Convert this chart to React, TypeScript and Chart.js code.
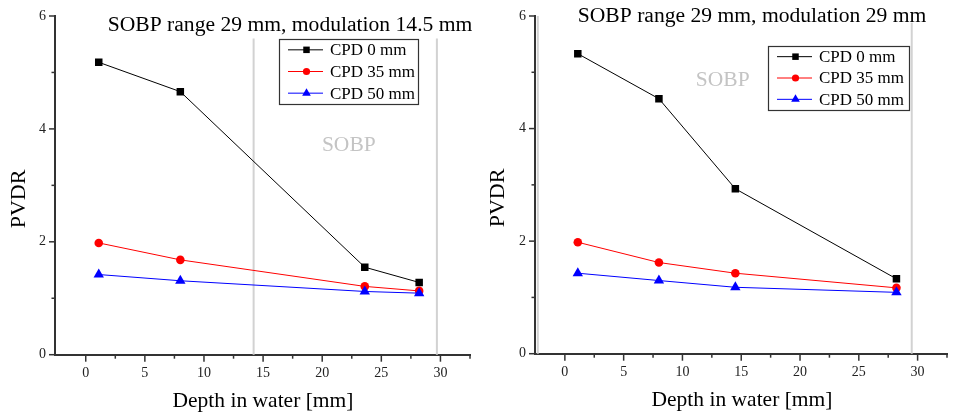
import React, { useEffect, useRef } from "react";
import { Chart, registerables } from "chart.js";

Chart.register(...registerables);

// ---------- data ----------
const depthLeft = [1.1, 8.0, 23.6, 28.2];
const cpd0Left = [5.18, 4.66, 1.55, 1.28];
const cpd35Left = [1.98, 1.68, 1.21, 1.13];
const cpd50Left = [1.42, 1.31, 1.12, 1.09];

const depthRight = [1.1, 8.0, 14.5, 28.2];
const cpd0Right = [5.33, 4.53, 2.93, 1.33];
const cpd35Right = [1.98, 1.62, 1.43, 1.17];
const cpd50Right = [1.43, 1.3, 1.18, 1.09];

const seriesLabels = ["CPD 0 mm", "CPD 35 mm", "CPD 50 mm"];
const titleLeft = "SOBP range 29 mm, modulation 14.5 mm";
const titleRight = "SOBP range 29 mm, modulation 29 mm";
const xTitle = "Depth in water [mm]";
const yTitle = "PVDR";
const sobpText = "SOBP";

const sobpLinesLeft = [14.2, 29.7];
const sobpTopsLeft = [5.6, 5.6];
const sobpLinesRight = [-2.3, 29.5];
const sobpTopsRight = [6, 5.88];

const xMajorTicks = [0, 5, 10, 15, 20, 25, 30];
const xMinorTicks = [2.5, 7.5, 12.5, 17.5, 22.5, 27.5, 32.5];
const yMajorTicks = [0, 2, 4, 6];
const yMinorTicks = [1, 3, 5];

// ---------- styles ----------
const FONT = "'Liberation Serif', 'Times New Roman', serif";
const AXIS = "#333333";
const COLORS = ["#000000", "#ff0000", "#0000ff"];
const STYLES = ["rect", "circle", "triangle"];
const RADII = [5.3, 4.3, 6];
const LEGEND_RADII = [4.6, 3.6, 5];

type Panel = {
  width: number;
  left: number;
  plotLeft: number;
  plotRight: number;
  plotTop: number;
  plotBottom: number;
  xMin: number;
  xMax: number;
  depth: number[];
  series: number[][];
  title: string;
  titleX: number;
  titleBaseline: number;
  sobpLines: number[];
  sobpTops: number[];
  sobpX: number;
  sobpBaseline: number;
  legendBox: [number, number, number, number];
  xTitleX: number;
  xTitleBaseline: number;
  yTitleBaseline: number;
  yTitleY: number;
};

const panels: Panel[] = [
  {
    width: 476,
    left: 0,
    plotLeft: 55,
    plotRight: 471.7,
    plotTop: 16,
    plotBottom: 354.7,
    xMin: -2.6,
    xMax: 32.5,
    depth: depthLeft,
    series: [cpd0Left, cpd35Left, cpd50Left],
    title: titleLeft,
    titleX: 290,
    titleBaseline: 30.7,
    sobpLines: sobpLinesLeft,
    sobpTops: sobpTopsLeft,
    sobpX: 348.8,
    sobpBaseline: 150.7,
    legendBox: [279, 39, 418, 104],
    xTitleX: 263,
    xTitleBaseline: 406.5,
    yTitleBaseline: 25,
    yTitleY: 199,
  },
  {
    width: 477,
    left: 476,
    plotLeft: 59,
    plotRight: 474,
    plotTop: 16,
    plotBottom: 353.7,
    xMin: -2.54,
    xMax: 32.5,
    depth: depthRight,
    series: [cpd0Right, cpd35Right, cpd50Right],
    title: titleRight,
    titleX: 276,
    titleBaseline: 21.7,
    sobpLines: sobpLinesRight,
    sobpTops: sobpTopsRight,
    sobpX: 246.7,
    sobpBaseline: 85.7,
    legendBox: [292, 46, 433, 110],
    xTitleX: 266,
    xTitleBaseline: 405.7,
    yTitleBaseline: 27.5,
    yTitleY: 198,
  },
];

function drawMarker(ctx: CanvasRenderingContext2D, style: string, x: number, y: number, r: number, color: string) {
  ctx.save();
  ctx.fillStyle = color;
  ctx.beginPath();
  if (style === "rect") {
    const s = r / Math.SQRT2;
    ctx.rect(x - s, y - s, 2 * s, 2 * s);
  } else if (style === "circle") {
    ctx.arc(x, y, r, 0, Math.PI * 2);
  } else {
    const h = r * 1.5;
    const w = (r * Math.sqrt(3)) / 2;
    ctx.moveTo(x, y - r);
    ctx.lineTo(x + w, y + h - r);
    ctx.lineTo(x - w, y + h - r);
    ctx.closePath();
  }
  ctx.fill();
  ctx.restore();
}

function makeChart(canvas: HTMLCanvasElement, p: Panel) {
  const decor = {
    id: "decor",
    beforeDatasetsDraw(chart: any) {
      const ctx = chart.ctx as CanvasRenderingContext2D;
      const xs = chart.scales.x;
      const ys = chart.scales.y;
      ctx.save();
      ctx.strokeStyle = "#d2d2d2";
      ctx.lineWidth = 2;
      p.sobpLines.forEach((v, i) => {
        const px = xs.getPixelForValue(v);
        ctx.beginPath();
        ctx.moveTo(px, ys.getPixelForValue(p.sobpTops[i]));
        ctx.lineTo(px, ys.getPixelForValue(0));
        ctx.stroke();
      });
      ctx.fillStyle = "#c4c4c4";
      ctx.font = `21.5px ${FONT}`;
      ctx.textAlign = "center";
      ctx.textBaseline = "alphabetic";
      ctx.fillText(sobpText, p.sobpX, p.sobpBaseline);
      ctx.restore();
    },
    afterDraw(chart: any) {
      const ctx = chart.ctx as CanvasRenderingContext2D;
      const xs = chart.scales.x;
      const ys = chart.scales.y;
      const area = chart.chartArea;
      ctx.save();
      // tick marks
      ctx.strokeStyle = AXIS;
      ctx.lineWidth = 1.5;
      const xt = (v: number, len: number) => {
        const px = xs.getPixelForValue(v);
        ctx.beginPath();
        ctx.moveTo(px, area.bottom);
        ctx.lineTo(px, area.bottom + len);
        ctx.stroke();
      };
      const yt = (v: number, len: number) => {
        const py = ys.getPixelForValue(v);
        ctx.beginPath();
        ctx.moveTo(area.left, py);
        ctx.lineTo(area.left - len, py);
        ctx.stroke();
      };
      xMajorTicks.forEach((v) => xt(v, 7));
      xMinorTicks.forEach((v) => xt(v, 4));
      yMajorTicks.forEach((v) => yt(v, 6));
      yMinorTicks.forEach((v) => yt(v, 3.5));

      // title
      ctx.fillStyle = "#000";
      ctx.font = `21.6px ${FONT}`;
      ctx.textAlign = "center";
      ctx.textBaseline = "alphabetic";
      ctx.fillText(p.title, p.titleX, p.titleBaseline);
      // x title
      ctx.font = `21.5px ${FONT}`;
      ctx.fillText(xTitle, p.xTitleX, p.xTitleBaseline);
      // y title
      ctx.save();
      ctx.translate(p.yTitleBaseline, p.yTitleY);
      ctx.rotate(-Math.PI / 2);
      ctx.font = `22px ${FONT}`;
      ctx.fillText(yTitle, 0, 0);
      ctx.restore();

      // legend
      const [l, t, r, b] = p.legendBox;
      ctx.fillStyle = "#fff";
      ctx.fillRect(l, t, r - l, b - t);
      ctx.strokeStyle = "#333";
      ctx.lineWidth = 1.2;
      ctx.strokeRect(l + 0.5, t + 0.5, r - l, b - t);
      const rowH = (b - t) / 3;
      chart.data.datasets.forEach((ds: any, i: number) => {
        const cy = t + rowH * (i + 0.5);
        ctx.strokeStyle = ds.borderColor;
        ctx.lineWidth = 1;
        ctx.beginPath();
        ctx.moveTo(l + 9, cy);
        ctx.lineTo(l + 44, cy);
        ctx.stroke();
        drawMarker(ctx, ds.pointStyle, l + 27.5, cy, LEGEND_RADII[i], ds.borderColor);
        ctx.fillStyle = "#000";
        ctx.font = `17px ${FONT}`;
        ctx.textAlign = "left";
        ctx.textBaseline = "middle";
        ctx.fillText(ds.label, l + 51, cy + 1);
      });
      ctx.restore();
    },
  };

  const datasets = p.series.map((vals, i) => ({
    label: seriesLabels[i],
    data: p.depth.map((x, j) => ({ x, y: vals[j] })),
    borderColor: COLORS[i],
    backgroundColor: COLORS[i],
    borderWidth: 1,
    pointStyle: STYLES[i],
    pointRadius: RADII[i],
    pointBorderWidth: 0,
    pointBackgroundColor: COLORS[i],
    pointBorderColor: COLORS[i],
    tension: 0,
    order: 3 - i,
  }));

  return new Chart(canvas, {
    type: "line",
    data: { datasets } as any,
    options: {
      animation: false,
      responsive: false,
      maintainAspectRatio: false,
      events: [],
      layout: {
        padding: {
          left: 0,
          top: p.plotTop,
          right: p.width - p.plotRight,
          bottom: 0,
        },
      },
      plugins: {
        legend: { display: false },
        title: { display: false },
        tooltip: { enabled: false },
      },
      scales: {
        x: {
          type: "linear",
          min: p.xMin,
          max: p.xMax,
          afterBuildTicks: (s: any) => {
            s.ticks = xMajorTicks.map((v) => ({ value: v }));
          },
          afterFit: (s: any) => {
            s.height = 412 - p.plotBottom;
          },
          grid: { display: false, drawTicks: true, tickLength: 7 },
          border: { display: true, color: AXIS, width: 2 },
          ticks: {
            autoSkip: false,
            maxRotation: 0,
            padding: 3,
            color: "#222",
            font: { family: FONT, size: 14 },
            callback: (v: any) => String(v),
          },
        },
        y: {
          type: "linear",
          min: 0,
          max: 6,
          afterBuildTicks: (s: any) => {
            s.ticks = yMajorTicks.map((v) => ({ value: v }));
          },
          afterFit: (s: any) => {
            s.width = p.plotLeft;
          },
          grid: { display: false, drawTicks: true, tickLength: 6 },
          border: { display: true, color: AXIS, width: 2 },
          ticks: {
            autoSkip: false,
            padding: 3,
            color: "#222",
            font: { family: FONT, size: 14 },
            callback: (v: any) => String(v),
          },
        },
      },
    },
    plugins: [decor],
  } as any);
}

function PanelChart({ p }: { p: Panel }) {
  const ref = useRef<HTMLCanvasElement | null>(null);
  useEffect(() => {
    if (!ref.current) return;
    const chart = makeChart(ref.current, p);
    return () => chart.destroy();
  }, [p]);
  return (
    <canvas
      ref={ref}
      width={p.width}
      height={412}
      style={{ position: "absolute", left: p.left, top: 0, width: p.width, height: 412, display: "block" }}
    />
  );
}

export default function App() {
  return (
    <div style={{ position: "fixed", left: 0, top: 0, width: 953, height: 412, background: "#fff", overflow: "hidden" }}>
      {panels.map((p, i) => (
        <PanelChart key={i} p={p} />
      ))}
    </div>
  );
}
